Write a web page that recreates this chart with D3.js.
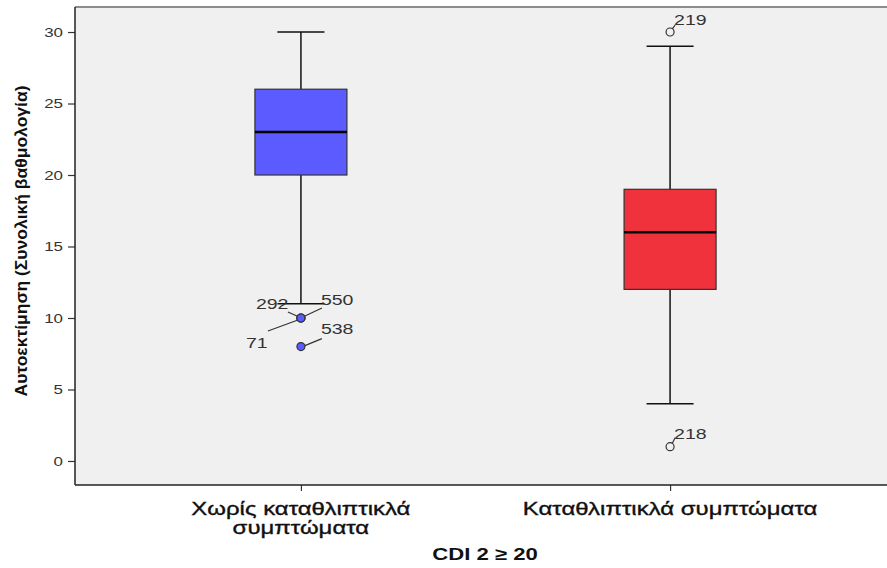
<!DOCTYPE html>
<html><head><meta charset="utf-8">
<script src="https://cdn.jsdelivr.net/npm/d3@7"></script>
<style>body{margin:0;background:#fff;} svg{display:block;font-family:"Liberation Sans",Arial,sans-serif;}</style>
</head><body>
<script>
const categories = ["Χωρίς καταθλιπτικλά συμπτώματα", "Καταθλιπτικλά συμπτώματα"];
const categoryLines = [["Χωρίς καταθλιπτικλά", "συμπτώματα"], ["Καταθλιπτικλά συμπτώματα"]];
const whiskerLow = [11, 4];
const q1 = [20, 12];
const median = [23, 16];
const q3 = [26, 19];
const whiskerHigh = [30, 29];
const boxColors = ["#5b5bff", "#f0323c"];
// outliers: category index, value, case label
const outlierCat = [0, 0, 0, 0, 1, 1];
const outlierVal = [10, 10, 10, 8, 30, 1];
const outlierLabel = ["292", "550", "71", "538", "219", "218"];
const yTicks = [0, 5, 10, 15, 20, 25, 30];
const yTitle = "Αυτοεκτίμηση (Συνολική βαθμολογία)";
const xTitle = "CDI 2 ≥ 20";

const W = 887, H = 568;
const pL = 75, pT = 7, pB = 485, pR = 896;
const stretch = 1.3; // reference text is horizontally widened
const svg = d3.select("body").append("svg").attr("width", W).attr("height", H);

const x = d3.scalePoint().domain(categories).range([pL, pR]).padding(0.612);
const y = d3.scaleLinear().domain([-1.68, 31.75]).range([pB, pT]);

svg.append("rect").attr("x", pL).attr("y", pT).attr("width", pR - pL).attr("height", pB - pT).attr("fill", "#f0f0f0");
svg.append("line").attr("x1", pL).attr("x2", pR).attr("y1", pT).attr("y2", pT).attr("stroke", "#8c8c8c").attr("stroke-width", 2);

function wide(sel, k) {
  const f = k || stretch;
  sel.each(function () {
    const n = this.getComputedTextLength();
    if (n > 0) d3.select(this).attr("textLength", n * f).attr("lengthAdjust", "spacingAndGlyphs");
  });
  return sel;
}

const boxW = 92, capW = 47;
const g = svg.append("g");
categories.forEach((c, i) => {
  const cx = x(c);
  g.append("line").attr("x1", cx).attr("x2", cx).attr("y1", y(whiskerHigh[i])).attr("y2", y(q3[i])).attr("stroke", "#111").attr("stroke-width", 1.5);
  g.append("line").attr("x1", cx).attr("x2", cx).attr("y1", y(q1[i])).attr("y2", y(whiskerLow[i])).attr("stroke", "#111").attr("stroke-width", 1.5);
  [whiskerHigh[i], whiskerLow[i]].forEach(v => {
    g.append("line").attr("x1", cx - capW / 2).attr("x2", cx + capW / 2).attr("y1", y(v)).attr("y2", y(v)).attr("stroke", "#111").attr("stroke-width", 1.5);
  });
  g.append("rect").attr("x", cx - boxW / 2).attr("y", y(q3[i])).attr("width", boxW).attr("height", y(q1[i]) - y(q3[i]))
    .attr("fill", boxColors[i]).attr("stroke", "#333").attr("stroke-width", 1.2);
  g.append("line").attr("x1", cx - boxW / 2).attr("x2", cx + boxW / 2).attr("y1", y(median[i])).attr("y2", y(median[i])).attr("stroke", "#000").attr("stroke-width", 2.5);
});

const labelOffsets = {
  "292": {tx: -45, ty: -9, lx1: -13, ly1: -6, lx2: -4, ly2: -2},
  "550": {tx: 20, ty: -13, lx1: 21, ly1: -10, lx2: 4, ly2: -2},
  "71": {tx: -55, ty: 30, lx1: -33, ly1: 13, lx2: -3, ly2: 2},
  "538": {tx: 20, ty: -13, lx1: 21, ly1: -8, lx2: 4, ly2: -1},
  "219": {tx: 4, ty: -7, lx1: 5, ly1: -7, lx2: 2, ly2: -3},
  "218": {tx: 4, ty: -8, lx1: 5, ly1: -9, lx2: 2, ly2: -3}
};
outlierVal.forEach((v, k) => {
  const i = outlierCat[k];
  const cx = x(categories[i]), cy = y(v);
  const o = labelOffsets[outlierLabel[k]];
  g.append("line").attr("x1", cx + o.lx1).attr("y1", cy + o.ly1).attr("x2", cx + o.lx2).attr("y2", cy + o.ly2).attr("stroke", "#333").attr("stroke-width", 1.2);
  wide(g.append("text").attr("x", cx + o.tx).attr("y", cy + o.ty).attr("font-size", 15).attr("fill", "#333").text(outlierLabel[k]));
});
outlierVal.forEach((v, k) => {
  const i = outlierCat[k];
  g.append("circle").attr("cx", x(categories[i])).attr("cy", y(v)).attr("r", 4)
    .attr("fill", i === 0 ? boxColors[0] : "none").attr("stroke", "#333").attr("stroke-width", 1.2);
});

const yAxis = svg.append("g").attr("transform", `translate(${pL},0)`).call(d3.axisLeft(y).tickValues(yTicks).tickSize(7).tickSizeOuter(0));
yAxis.select(".domain").remove();
yAxis.selectAll("line").attr("stroke", "#333").attr("stroke-width", 1.2);
wide(yAxis.selectAll("text").attr("font-size", 13).attr("fill", "#333").attr("font-family", "Liberation Sans, Arial, sans-serif").attr("dx", "-2"));
svg.append("line").attr("x1", pL).attr("x2", pL).attr("y1", pT).attr("y2", pB).attr("stroke", "#222").attr("stroke-width", 1.5);

const xAxis = svg.append("g").attr("transform", `translate(0,${pB})`).call(d3.axisBottom(x).tickSize(6).tickSizeOuter(0).tickFormat(""));
xAxis.select(".domain").remove();
xAxis.selectAll("line").attr("stroke", "#333").attr("stroke-width", 1.2);
svg.append("line").attr("x1", pL).attr("x2", pR).attr("y1", pB).attr("y2", pB).attr("stroke", "#222").attr("stroke-width", 1.5);

categories.forEach((c, i) => {
  categoryLines[i].forEach((t, j) => {
    const el = svg.append("text").attr("x", x(c)).attr("y", 515 + j * 19).attr("text-anchor", "middle").attr("font-size", 18)
      .attr("fill", "#111").attr("stroke", "#111").attr("stroke-width", 0.35).text(t);
    wide(el, 1.33);
  });
});

wide(svg.append("text").attr("x", 485).attr("y", 560).attr("text-anchor", "middle").attr("font-size", 17).attr("font-weight", "bold").attr("fill", "#111").text(xTitle));
const yt = svg.append("text").attr("transform", `translate(27,241) rotate(-90)`).attr("text-anchor", "middle")
  .attr("font-size", 16).attr("font-weight", "bold").attr("fill", "#111").text(yTitle);
yt.attr("textLength", 311).attr("lengthAdjust", "spacingAndGlyphs");
</script>
</body></html>
